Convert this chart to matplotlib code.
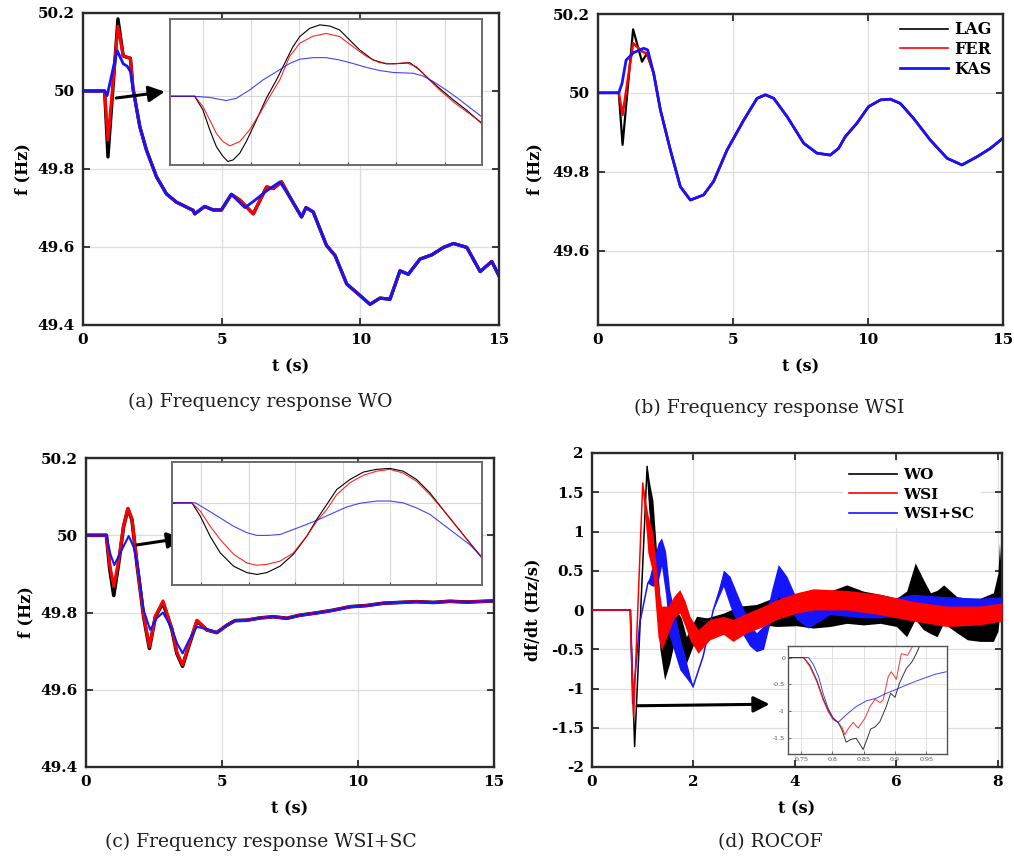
import matplotlib
matplotlib.use('Agg')
import matplotlib.pyplot as plt
from matplotlib.lines import Line2D
import numpy as np

plt.rcParams['font.family'] = 'DejaVu Serif'
plt.rcParams['axes.unicode_minus'] = False

# ---------------- (a) frequency response WO ----------------
A_WO_T = [0, 0.78, 0.9, 1.26, 1.45, 1.56, 1.71]
A_WO_F = [50.0, 50.0, 49.831, 50.185, 50.09, 50.087, 50.084]
A_FER_T = [0, 0.78, 0.9, 1.26, 1.45, 1.56, 1.71]
A_FER_F = [50.0, 50.0, 49.874, 50.166, 50.09, 50.087, 50.084]
A_KAS_T = [0, 0.78, 0.87, 1.23, 1.45, 1.6, 1.71]
A_KAS_F = [50.0, 50.0, 49.988, 50.104, 50.07, 50.063, 50.05]
# common tail (black / red)
A_TAIL_T = [1.8, 2.05, 2.29, 2.65, 3.01, 3.37, 3.97, 4.03, 4.39, 4.69, 4.99, 5.35, 5.66,
            6.14, 6.62, 6.86, 7.16, 7.46, 7.88, 8.04, 8.3, 8.78, 9.09, 9.51, 9.87, 10.35,
            10.71, 11.07, 11.43, 11.73, 12.15, 12.58, 13.0, 13.36, 13.84, 14.32, 14.74, 15.0]
A_TAIL_F = [50.008, 49.908, 49.848, 49.78, 49.736, 49.715, 49.694, 49.685, 49.704, 49.695,
            49.695, 49.735, 49.72, 49.685, 49.754, 49.75, 49.767, 49.728, 49.677, 49.701,
            49.69, 49.604, 49.578, 49.505, 49.483, 49.453, 49.469, 49.466, 49.539, 49.53,
            49.569, 49.58, 49.599, 49.609, 49.599, 49.537, 49.563, 49.526]
# blue differs between 5.35 s and 7.16 s
A_KAS_MID_T = [5.35, 5.84, 6.2, 6.62, 7.1]
A_KAS_MID_F = [49.735, 49.701, 49.72, 49.744, 49.767]

# inset (a)
AI_WO_T = [0.689, 0.774, 0.804, 0.829, 0.853, 0.877, 0.895, 0.914, 0.938, 0.962, 0.999,
           1.035, 1.072, 1.108, 1.132, 1.157, 1.193, 1.230, 1.266, 1.302, 1.339, 1.375,
           1.424, 1.473, 1.521, 1.558, 1.594, 1.631, 1.667, 1.716, 1.764, 1.819]
AI_WO_F = [50.0, 50.0, 49.965, 49.914, 49.871, 49.846, 49.833, 49.837, 49.854, 49.884,
           49.939, 49.995, 50.042, 50.093, 50.127, 50.153, 50.174, 50.183, 50.180, 50.170,
           50.144, 50.119, 50.093, 50.083, 50.084, 50.086, 50.067, 50.042, 50.020, 49.991,
           49.965, 49.931]
AI_FER_T = [0.689, 0.774, 0.804, 0.829, 0.853, 0.877, 0.902, 0.938, 0.974, 1.011, 1.047,
            1.084, 1.120, 1.157, 1.205, 1.254, 1.302, 1.351, 1.400, 1.448, 1.497, 1.545,
            1.582, 1.618, 1.667, 1.716, 1.764, 1.819]
AI_FER_F = [50.0, 50.0, 49.974, 49.939, 49.905, 49.884, 49.873, 49.884, 49.914, 49.956,
            49.999, 50.042, 50.102, 50.136, 50.154, 50.161, 50.153, 50.127, 50.102, 50.086,
            50.083, 50.086, 50.076, 50.050, 50.016, 49.986, 49.961, 49.933]
AI_KAS_T = [0.689, 0.774, 0.829, 0.889, 0.926, 0.974, 1.023, 1.072, 1.120, 1.157, 1.205,
            1.254, 1.302, 1.351, 1.400, 1.448, 1.497, 1.570, 1.606, 1.643, 1.691, 1.740, 1.819]
AI_KAS_F = [50.0, 50.0, 49.997, 49.989, 49.995, 50.016, 50.042, 50.063, 50.084, 50.095,
            50.099, 50.099, 50.093, 50.084, 50.074, 50.066, 50.061, 50.059, 50.052, 50.038,
            50.016, 49.991, 49.948]
AI_GRID_T = [0.804, 0.980, 1.153, 1.333, 1.509, 1.685]

# ---------------- (b) frequency response WSI ----------------
B_WO_T = [0, 0.77, 0.91, 1.30, 1.63, 1.81]
B_WO_F = [50.0, 50.0, 49.868, 50.161, 50.079, 50.10]
B_FER_T = [0, 0.77, 0.91, 1.30, 1.63, 1.81]
B_FER_F = [50.0, 50.0, 49.944, 50.126, 50.105, 50.10]
B_KAS_T = [0, 0.77, 0.89, 1.04, 1.32, 1.69, 1.84]
B_KAS_F = [50.0, 50.0, 50.024, 50.083, 50.102, 50.113, 50.109]
B_TAIL_T = [2.06, 2.31, 2.68, 3.05, 3.42, 3.91, 4.28, 4.78, 5.40, 5.89, 6.20, 6.51, 7.0,
            7.62, 8.11, 8.6, 8.91, 9.16, 9.59, 10.02, 10.46, 10.83, 11.2, 11.69, 12.31,
            12.93, 13.48, 14.04, 14.53, 15.0]
B_TAIL_F = [50.05, 49.957, 49.855, 49.762, 49.728, 49.741, 49.775, 49.855, 49.931, 49.986,
            49.995, 49.986, 49.94, 49.872, 49.847, 49.842, 49.859, 49.889, 49.923, 49.965,
            49.982, 49.984, 49.973, 49.935, 49.88, 49.834, 49.817, 49.838, 49.859, 49.885]

# ---------------- (c) frequency response WSI+SC ----------------
C_WO_T = [0, 0.75, 0.87, 1.02, 1.2, 1.38, 1.54, 1.69, 1.87, 2.12, 2.33, 2.55, 2.83, 3.16,
          3.34, 3.55, 3.77, 4.08, 4.44]
C_WO_F = [50.0, 50.0, 49.915, 49.844, 49.927, 50.022, 50.068, 50.04, 49.927, 49.789,
          49.707, 49.789, 49.825, 49.755, 49.694, 49.661, 49.711, 49.778, 49.755]
C_FER_T = [0, 0.75, 0.87, 1.02, 1.2, 1.38, 1.54, 1.69, 1.87, 2.12, 2.33, 2.55, 2.83, 3.16,
           3.34, 3.55, 3.77, 4.08, 4.44]
C_FER_F = [50.0, 50.0, 49.925, 49.867, 49.935, 50.024, 50.07, 50.042, 49.93, 49.792,
           49.711, 49.79, 49.83, 49.758, 49.697, 49.664, 49.714, 49.78, 49.755]
C_KAS_T = [0, 0.75, 0.9, 1.04, 1.3, 1.57, 1.75, 1.93, 2.12, 2.36, 2.6, 2.83, 3.15, 3.35,
           3.55, 3.8, 4.08, 4.44]
C_KAS_F = [50.0, 50.0, 49.95, 49.923, 49.96, 49.998, 49.97, 49.91, 49.806, 49.755, 49.785,
           49.80, 49.76, 49.72, 49.694, 49.73, 49.763, 49.757]
C_TAIL_T = [4.81, 5.18, 5.48, 5.91, 6.40, 6.89, 7.38, 7.87, 8.48, 9.09, 9.71, 10.32, 10.93,
            11.54, 12.15, 12.77, 13.38, 13.99, 15.0]
C_TAIL_F = [49.748, 49.767, 49.779, 49.78, 49.786, 49.789, 49.785, 49.793, 49.799, 49.806,
            49.815, 49.818, 49.824, 49.826, 49.828, 49.826, 49.829, 49.827, 49.83]

# inset (c)
CI_T = [0.669, 0.75, 0.784, 0.824, 0.865, 0.919, 0.973, 1.014, 1.054, 1.108, 1.162, 1.216,
        1.257, 1.297, 1.338, 1.392, 1.446, 1.50, 1.554, 1.608, 1.662, 1.716, 1.770, 1.824,
        1.878, 1.928]
CI_WO_F = [50.0, 50.0, 49.971, 49.927, 49.891, 49.862, 49.848, 49.844, 49.848, 49.862,
           49.888, 49.927, 49.964, 49.996, 50.029, 50.051, 50.067, 50.073, 50.075, 50.069,
           50.051, 50.022, 49.985, 49.949, 49.913, 49.880]
CI_FER_F = [50.0, 50.0, 49.982, 49.949, 49.920, 49.888, 49.869, 49.864, 49.866, 49.873,
            49.891, 49.927, 49.960, 49.985, 50.018, 50.044, 50.060, 50.069, 50.073, 50.065,
            50.047, 50.018, 49.985, 49.949, 49.913, 49.880]
CI_KAS_T = [0.669, 0.764, 0.811, 0.865, 0.919, 0.973, 1.014, 1.054, 1.108, 1.162, 1.216,
            1.270, 1.324, 1.378, 1.432, 1.50, 1.554, 1.608, 1.662, 1.716, 1.770, 1.824,
            1.878, 1.928]
CI_KAS_F = [50.0, 50.0, 49.985, 49.967, 49.949, 49.935, 49.929, 49.929, 49.931, 49.942,
            49.953, 49.965, 49.978, 49.991, 49.999, 50.004, 50.004, 50.0, 49.989, 49.975,
            49.953, 49.931, 49.909, 49.882]
CI_GRID_T = [0.788, 0.980, 1.169, 1.365, 1.554, 1.743]

# ---------------- (d) ROCOF (upper / lower envelope of the oscillation bands) ----------------
D_WO_T = [0, 0.757, 0.84, 1.086, 1.14, 1.2, 1.34, 1.43, 1.53, 1.66, 1.76, 1.86, 2.06, 2.26,
          2.59, 2.91, 3.24, 3.64, 4.03, 4.36, 4.69, 5.02, 5.35, 5.68, 6.0, 6.2, 6.37, 6.53,
          6.67, 6.8, 6.93, 7.19, 7.4, 7.65, 7.91, 8.0, 8.03, 8.08]
D_WO_HI = [0, 0, -1.74, 1.83, 1.6, 1.4, 0.13, -0.34, -0.17, 0.0, -0.1, -0.34, -0.08, -0.1,
           -0.04, 0.05, 0.07, 0.17, 0.2, 0.22, 0.24, 0.32, 0.24, 0.2, 0.15, 0.24, 0.6, 0.39,
           0.22, 0.25, 0.32, 0.17, 0.15, 0.15, 0.22, 0.47, 0.85, 0.3]
D_WO_LO = [0, 0, -1.74, 1.83, 1.0, 0.64, -0.51, -0.89, -0.68, -0.3, -0.45, -0.68, -0.34,
           -0.27, -0.25, -0.17, -0.18, -0.21, -0.2, -0.23, -0.21, -0.17, -0.19, -0.17, -0.21,
           -0.34, -0.12, -0.25, -0.3, -0.34, -0.17, -0.29, -0.38, -0.4, -0.4, -0.27, -0.1, -0.27]
D_WSI_T = [0, 0.75, 0.82, 1.0, 1.1, 1.2, 1.3, 1.37, 1.5, 1.62, 1.73, 1.83, 1.93, 2.09, 2.32,
           2.59, 2.78, 3.05, 3.38, 3.64, 4.03, 4.36, 5.02, 5.68, 6.33, 6.99, 7.65, 8.08]
D_WSI_HI = [0, 0, -1.36, 1.62, 1.22, 0.98, 0.34, 0.05, 0.05, 0.18, 0.26, 0.12, -0.08, -0.25,
            -0.12, -0.08, -0.12, -0.04, 0.05, 0.13, 0.22, 0.27, 0.25, 0.2, 0.11, 0.05, 0.05, 0.09]
D_WSI_LO = [0, 0, -1.36, 1.62, 0.73, 0.47, -0.34, -0.51, -0.3, -0.1, -0.04, -0.2, -0.38,
            -0.55, -0.38, -0.31, -0.4, -0.29, -0.21, -0.12, -0.04, 0.0, 0.0, -0.06, -0.14,
            -0.21, -0.19, -0.14]
D_SC_T = [0, 0.757, 0.80, 0.94, 1.1, 1.2, 1.3, 1.37, 1.45, 1.53, 1.73, 1.99, 2.19, 2.39,
          2.59, 2.72, 2.91, 3.11, 3.24, 3.38, 3.54, 3.67, 3.84, 4.03, 4.26, 4.69, 5.02, 5.35,
          5.68, 6.0, 6.33, 6.99, 7.65, 8.08]
D_SC_HI = [0, 0, -1.19, -0.17, 0.34, 0.6, 0.85, 0.92, 0.75, 0.26, -0.34, -0.98, -0.59, 0.0,
           0.51, 0.43, 0.13, -0.17, -0.29, -0.2, 0.26, 0.58, 0.43, 0.15, 0.0, 0.1, 0.12, 0.1,
           0.12, 0.16, 0.2, 0.17, 0.15, 0.17]
D_SC_LO = [0, 0, -1.19, -0.17, 0.34, 0.3, 0.35, 0.56, 0.2, -0.34, -0.76, -0.98, -0.59, 0.0,
           0.3, 0.05, -0.25, -0.46, -0.53, -0.5, -0.08, 0.17, 0.09, -0.12, -0.23, -0.06,
           -0.08, -0.1, -0.1, -0.08, -0.05, -0.05, -0.06, -0.05]

# inset (d)
DI_WO_T = [0.729, 0.754, 0.764, 0.775, 0.785, 0.793, 0.801, 0.809, 0.815, 0.822, 0.829,
           0.838, 0.849, 0.855, 0.861, 0.868, 0.876, 0.886, 0.893, 0.900, 0.907, 0.918,
           0.927, 0.934, 0.939]
DI_WO_V = [0, 0, -0.142, -0.42, -0.759, -0.975, -1.13, -1.21, -1.346, -1.58, -1.531, -1.506,
           -1.716, -1.531, -1.333, -1.296, -1.191, -0.914, -0.667, -0.741, -0.481, -0.204,
           -0.08, 0.074, 0.21]
DI_WSI_T = [0.729, 0.754, 0.764, 0.775, 0.785, 0.793, 0.801, 0.809, 0.815, 0.820, 0.825,
            0.833, 0.841, 0.852, 0.860, 0.868, 0.876, 0.881, 0.889, 0.894, 0.902, 0.910,
            0.920, 0.928]
DI_WSI_V = [0, 0, -0.173, -0.451, -0.79, -1.006, -1.16, -1.21, -1.296, -1.438, -1.333,
            -1.21, -1.315, -1.13, -0.914, -0.778, -0.84, -0.79, -0.358, -0.265, -0.407,
            0.074, 0.043, 0.21]
DI_SC_T = [0.729, 0.762, 0.770, 0.778, 0.785, 0.793, 0.801, 0.809, 0.822, 0.838, 0.854,
           0.870, 0.886, 0.902, 0.918, 0.934, 0.950, 0.965, 0.982]
DI_SC_V = [0, 0, -0.142, -0.358, -0.667, -0.944, -1.13, -1.21, -1.068, -0.914, -0.809,
           -0.759, -0.667, -0.593, -0.512, -0.438, -0.37, -0.309, -0.265]

FREQ_TICKS = [49.4, 49.6, 49.8, 50.0, 50.2]
FREQ_LABELS = ['49.4', '49.6', '49.8', '50', '50.2']
ROCOF_TICKS = [-2, -1.5, -1, -0.5, 0, 0.5, 1, 1.5, 2]
ROCOF_LABELS = ['-2', '-1.5', '-1', '-0.5', '0', '0.5', '1', '1.5', '2']

BLACK = '#000000'
RED = '#ff0000'
BLUE = '#1414ff'
TICK_FONT = dict(fontsize=11, fontweight='bold')


def style_main(ax, xticks, xlabels, yticks, ylabels):
    ax.set_xticks(xticks, xlabels, **TICK_FONT)
    ax.set_yticks(yticks, ylabels, **TICK_FONT)
    ax.grid(True, color='#dddddd', linewidth=0.9)
    ax.set_axisbelow(True)
    for s in ax.spines.values():
        s.set_linewidth(1.7)
        s.set_color('#2a2a2a')
    ax.tick_params(direction='in', top=True, right=True, length=5, width=1.3,
                   color='#2a2a2a', pad=6)


def style_inset(ax, gridx, gridy):
    ax.set_xticks(gridx)
    ax.set_yticks(gridy)
    ax.tick_params(direction='in', length=2.5, width=0.8, labelbottom=False,
                   labelleft=False, color='#555555')
    ax.grid(True, color='#d8d8d8', linewidth=0.8)
    ax.set_axisbelow(True)
    for s in ax.spines.values():
        s.set_linewidth(1.4)
        s.set_color('#6a6a6a')


def labels(ax, xlab, ylab, width_px, height_px, ypad_px=60, xpad_px=42):
    ax.set_xlabel(xlab, fontsize=11.5, fontweight='bold', va='center')
    ax.set_ylabel(ylab, fontsize=11.5, fontweight='bold', va='center')
    ax.xaxis.set_label_coords(0.5, -xpad_px / height_px)
    ax.yaxis.set_label_coords(-ypad_px / width_px, 0.5)


def arrow(ax, start, end):
    ax.annotate('', xy=end, xytext=start,
                arrowprops=dict(arrowstyle='-|>', color='k', lw=2.2, mutation_scale=24,
                                shrinkA=0, shrinkB=0))


def main():
    W, H = 1014, 860
    fig = plt.figure(figsize=(W / 100, H / 100), dpi=100)

    def box(l, t, r, b):
        return [l / W, 1 - b / H, (r - l) / W, (b - t) / H]

    # ---- (a)
    ax = fig.add_axes(box(83, 13, 499, 325))
    ax.plot(A_WO_T + A_TAIL_T, A_WO_F + A_TAIL_F, color=BLACK, lw=2.4)
    ax.plot(A_FER_T + A_TAIL_T, A_FER_F + A_TAIL_F, color=RED, lw=2.2)
    kas_t = A_KAS_T + [t for t in A_TAIL_T if t < 5.35] + A_KAS_MID_T + [t for t in A_TAIL_T if t > 7.16]
    kas_f = A_KAS_F + [f for t, f in zip(A_TAIL_T, A_TAIL_F) if t < 5.35] + A_KAS_MID_F + \
        [f for t, f in zip(A_TAIL_T, A_TAIL_F) if t > 7.16]
    ax.plot(kas_t, kas_f, color=BLUE, lw=2.0)
    ax.set_xlim(0, 15)
    ax.set_ylim(49.4, 50.2)
    style_main(ax, [0, 5, 10, 15], ['0', '5', '10', '15'], FREQ_TICKS, FREQ_LABELS)
    labels(ax, 't (s)', 'f (Hz)', 416, 312)
    arrow(ax, (1.2, 49.982), (2.95, 49.998))

    axi = fig.add_axes(box(170, 19, 482, 165))
    axi.plot(AI_WO_T, AI_WO_F, color=BLACK, lw=0.8)
    axi.plot(AI_FER_T, AI_FER_F, color=RED, lw=0.8, alpha=0.85)
    axi.plot(AI_KAS_T, AI_KAS_F, color=BLUE, lw=0.8, alpha=0.8)
    axi.set_xlim(0.684, 1.821)
    axi.set_ylim(49.824, 50.198)
    style_inset(axi, AI_GRID_T, [50.0])

    # ---- (b)
    ax = fig.add_axes(box(598, 14, 1003, 325))
    ax.plot(B_WO_T + B_TAIL_T, B_WO_F + B_TAIL_F, color=BLACK, lw=1.6, label='LAG')
    ax.plot(B_FER_T + B_TAIL_T, B_FER_F + B_TAIL_F, color=RED, lw=1.8, label='FER')
    ax.plot(B_KAS_T + B_TAIL_T, B_KAS_F + B_TAIL_F, color=BLUE, lw=2.0, label='KAS')
    ax.set_xlim(0, 15)
    ax.set_ylim(49.411, 50.2)
    style_main(ax, [0, 5, 10, 15], ['0', '5', '10', '15'], FREQ_TICKS[1:], FREQ_LABELS[1:])
    labels(ax, 't (s)', 'f (Hz)', 405, 311, ypad_px=63)
    handles = [Line2D([], [], color=BLACK, lw=1.2), Line2D([], [], color=RED, lw=1.2),
               Line2D([], [], color=BLUE, lw=2.0)]
    ax.legend(handles, ['LAG', 'FER', 'KAS'], loc='upper right', frameon=False,
              bbox_to_anchor=(1.0, 1.0 + 4 / 311),
              prop=dict(size=11.5, weight='bold'), handlelength=3.0, labelspacing=0.18,
              borderaxespad=0.3, handletextpad=0.4)

    # ---- (c)
    ax = fig.add_axes(box(86, 458, 494, 767))
    ax.plot(C_WO_T + C_TAIL_T, C_WO_F + C_TAIL_F, color=BLACK, lw=2.6)
    ax.plot(C_FER_T + C_TAIL_T, C_FER_F + C_TAIL_F, color=RED, lw=2.2)
    ax.plot(C_KAS_T + C_TAIL_T, C_KAS_F + C_TAIL_F, color=BLUE, lw=1.5)
    ax.set_xlim(0, 15)
    ax.set_ylim(49.4, 50.2)
    style_main(ax, [0, 5, 10, 15], ['0', '5', '10', '15'], FREQ_TICKS, FREQ_LABELS)
    labels(ax, 't (s)', 'f (Hz)', 408, 309)
    arrow(ax, (1.875, 49.975), (3.57, 49.993))

    axi = fig.add_axes(box(172, 462, 482, 585))
    axi.plot(CI_T, CI_WO_F, color=BLACK, lw=0.8)
    axi.plot(CI_T, CI_FER_F, color=RED, lw=0.8, alpha=0.85)
    axi.plot(CI_KAS_T, CI_KAS_F, color=BLUE, lw=0.8, alpha=0.8)
    axi.set_xlim(0.669, 1.928)
    axi.set_ylim(49.821, 50.089)
    style_inset(axi, CI_GRID_T, [50.0])

    # ---- (d)
    ax = fig.add_axes(box(592, 453, 1002, 767))
    series = [(D_WO_T, D_WO_LO, D_WO_HI, BLACK, 2), (D_SC_T, D_SC_LO, D_SC_HI, BLUE, 3),
              (D_WSI_T, D_WSI_LO, D_WSI_HI, RED, 4)]
    for t, lo, hi, c, z in series:
        lo = np.array(lo)
        hi = np.array(hi)
        ax.fill_between(t, lo, hi, color=c, lw=0, zorder=z)
        ax.plot(t, (lo + hi) / 2, color=c, lw=1.1, zorder=z)
    ax.set_xlim(0, 8.08)
    ax.set_ylim(-2, 2)
    style_main(ax, [0, 2, 4, 6, 8], ['0', '2', '4', '6', '8'], ROCOF_TICKS, ROCOF_LABELS)
    labels(ax, 't (s)', 'df/dt (Hz/s)', 410, 314, ypad_px=59)
    handles = [Line2D([], [], color=BLACK, lw=1.2), Line2D([], [], color=RED, lw=1.2),
               Line2D([], [], color=BLUE, lw=1.2)]
    leg = ax.legend(handles, ['WO', 'WSI', 'WSI+SC'], loc='upper right', frameon=True,
                    bbox_to_anchor=(1.0 - 19 / 410, 1.0 - 6 / 314),
                    prop=dict(size=11, weight='bold'), handlelength=3.1, labelspacing=0.35,
                    borderaxespad=0.2, handletextpad=0.4, fancybox=False, framealpha=1)
    leg.get_frame().set_edgecolor('white')
    leg.set_zorder(10)
    arrow(ax, (0.89, -1.22), (3.5, -1.20))

    axi = fig.add_axes(box(788, 646, 947, 754))
    axi.plot(DI_WO_T, DI_WO_V, color=BLACK, lw=0.7, alpha=0.8)
    axi.plot(DI_WSI_T, DI_WSI_V, color=RED, lw=0.7, alpha=0.8)
    axi.plot(DI_SC_T, DI_SC_V, color=BLUE, lw=0.7, alpha=0.8)
    axi.set_xlim(0.729, 0.983)
    axi.set_ylim(-1.80, 0.216)
    axi.set_xticks([0.75, 0.8, 0.85, 0.9, 0.95], ['0.75', '0.8', '0.85', '0.9', '0.95'])
    axi.set_yticks([0, -0.5, -1, -1.5], ['0', '-0.5', '-1', '-1.5'])
    axi.tick_params(direction='in', length=2, width=0.6, labelsize=4.5, pad=2,
                    labelcolor='#444444', color='#555555')
    axi.grid(True, color='#dddddd', linewidth=0.6)
    axi.set_axisbelow(True)
    for s in axi.spines.values():
        s.set_linewidth(1.0)
        s.set_color('#555555')

    # captions
    cap = dict(fontsize=13.5, ha='center', va='center', color='#1e1e1e')
    fig.text(260 / W, 1 - 402 / H, '(a) Frequency response WO', **cap)
    fig.text(769 / W, 1 - 408 / H, '(b) Frequency response WSI', **cap)
    fig.text(261 / W, 1 - 842 / H, '(c) Frequency response WSI+SC', **cap)
    fig.text(770 / W, 1 - 842 / H, '(d) ROCOF', **cap)

    fig.savefig('out.png', dpi=100)
    plt.close(fig)


if __name__ == '__main__':
    main()
